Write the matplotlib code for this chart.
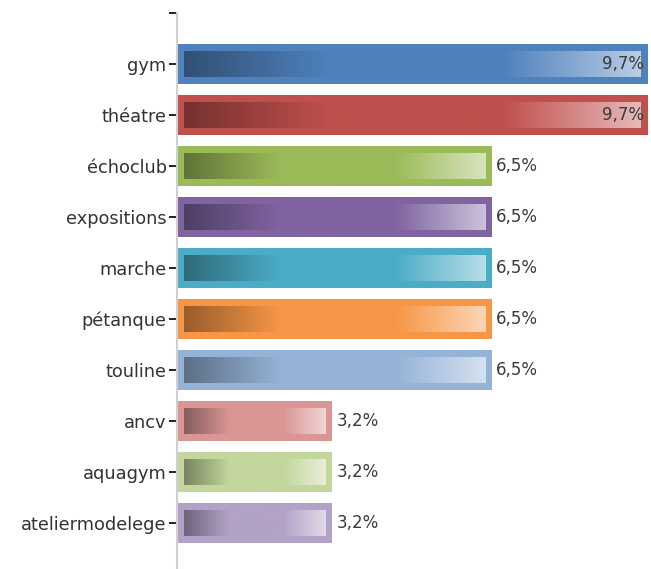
import numpy as np
import matplotlib
matplotlib.use("Agg")
import matplotlib.pyplot as plt
from matplotlib.colors import to_rgb

categories = ["gym", "théatre", "échoclub", "expositions", "marche", "pétanque",
              "touline", "ancv", "aquagym", "ateliermodelege"]
values = [9.7, 9.7, 6.5, 6.5, 6.5, 6.5, 6.5, 3.2, 3.2, 3.2]
labels = ["9,7%", "9,7%", "6,5%", "6,5%", "6,5%", "6,5%", "6,5%", "3,2%", "3,2%", "3,2%"]
colors = ["#4f81bd", "#c0504d", "#9bbb59", "#8064a2", "#4bacc6", "#f79646",
          "#95b3d7", "#d99694", "#c3d69b", "#b3a2c7"]

W, H = 651, 569
fig = plt.figure(figsize=(W / 100, H / 100), dpi=100)
ax = fig.add_axes([177 / W, 0, (W - 177) / W, (H - 13) / H])

xmax = 9.77
ax.set_xlim(0, xmax)
ax.set_ylim(9.9, -1)

px_x = (W - 177) / xmax
px_y = (H - 13) / 10.9
bh = 40 / px_y
inset_x = 7 / px_x
inset_y = 7 / px_y

def grad_img(base):
    b = np.array(to_rgb(base))
    dark = b * 0.62
    light = b + (1 - b) * 0.6
    n = 256
    t = np.linspace(0, 1, n)
    stops = [(0.0, dark), (0.32, b), (0.70, b), (1.0, light)]
    img = np.zeros((1, n, 3))
    for i, tt in enumerate(t):
        for (t0, c0), (t1, c1) in zip(stops[:-1], stops[1:]):
            if t0 <= tt <= t1:
                f = (tt - t0) / (t1 - t0)
                img[0, i] = c0 + (c1 - c0) * f
                break
    return img

ypos = np.arange(len(categories))
ax.barh(ypos, values, height=bh, color=colors, edgecolor="none", zorder=2)
for y, v, c, lab in zip(ypos, values, colors, labels):
    x0, x1 = inset_x, v - inset_x
    y0, y1 = y - bh / 2 + inset_y, y + bh / 2 - inset_y
    ax.imshow(grad_img(c), extent=(x0, x1, y1, y0), aspect="auto",
              interpolation="bilinear", zorder=3)
    if v > 9:
        ax.text(v - 4 / px_x, y, lab, ha="right", va="center", fontsize=12,
                color="#3a3a3a", family="DejaVu Sans", zorder=4)
    else:
        ax.text(v + 4 / px_x, y, lab, ha="left", va="center", fontsize=12,
                color="#3a3a3a", family="DejaVu Sans", zorder=4)

ax.set_xlim(0, xmax)
ax.set_ylim(9.9, -1)
ax.set_yticks(list(range(-1, len(categories))))
ax.set_yticklabels([""] + categories, fontsize=12.8, color="#333333",
                   family="DejaVu Sans")
ax.tick_params(axis="y", length=6, width=1.4, color="#222222", pad=1.5)
ax.set_xticks([])
for s in ["top", "right", "bottom"]:
    ax.spines[s].set_visible(False)
ax.spines["left"].set_color("#d0d0d0")
ax.spines["left"].set_linewidth(1.5)
ax.set_facecolor("white")

fig.savefig("out.png", dpi=100)
